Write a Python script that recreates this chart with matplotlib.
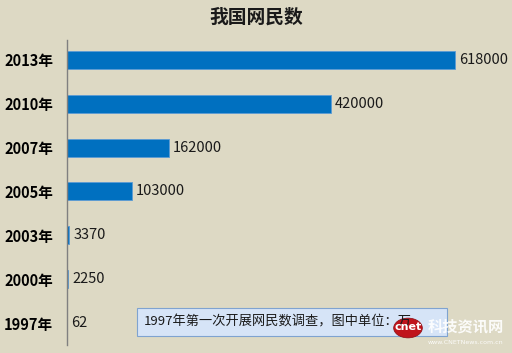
import matplotlib
matplotlib.use('Agg')
import matplotlib.pyplot as plt
from matplotlib.patches import FancyBboxPatch, Circle

plt.rcParams['font.family'] = ['Noto Sans CJK SC', 'DejaVu Sans']

# ── Data ────────────────────────────────────────────────────────────
years = ['1997年', '2000年', '2003年', '2005年', '2007年', '2010年', '2013年']
users = [62, 2250, 3370, 103000, 162000, 420000, 618000]
title = '我国网民数'
note = '1997年第一次开展网民数调查，图中单位：万'

BG = '#DDD9C4'
BAR = '#0070C0'

fig = plt.figure(figsize=(5.12, 3.53), dpi=100, facecolor=BG)
ax = fig.add_axes([67 / 512, 1 - 345 / 353, 408 / 512, 305 / 353])
ax.set_facecolor(BG)

pos = list(range(len(years)))
ax.barh(pos, users, height=0.41, color=BAR, edgecolor='#5B9BD5', linewidth=0.6)
ax.set_xlim(0, 650000)
ax.set_ylim(-0.5, 6.45)

for p, v in zip(pos, users):
    ax.text(v + 7000, p, str(v), va='center', ha='left', fontsize=10.5,
            color='#1a1a1a')

ax.set_yticks(pos)
ax.set_yticklabels(years, fontsize=10.5, fontweight='bold')
ax.tick_params(axis='y', length=0, pad=10)
ax.set_xticks([])
for s in ['top', 'right', 'bottom']:
    ax.spines[s].set_visible(False)
ax.spines['left'].set_color('#808080')
ax.spines['left'].set_linewidth(1.0)

fig.text(256 / 512, 1 - 17 / 353, title, ha='center', va='center',
         fontsize=13.5, fontweight='bold', color='#1a1a1a')

# note box
box = FancyBboxPatch((137 / 512, 1 - 336 / 353), 310 / 512, 28 / 353,
                     boxstyle='square,pad=0', transform=fig.transFigure,
                     facecolor='#D6E4F7', edgecolor='#7FA3D0', linewidth=0.8)
fig.patches.append(box)
fig.text(144 / 512, 1 - 322 / 353, note, ha='left', va='center',
         fontsize=9.5, color='#1a1a1a')

# watermark
logo = Circle((408 / 512, 1 - 328 / 353), 0.028, transform=fig.transFigure,
              facecolor='#C0141C', edgecolor='#8A0E14', linewidth=0.5)
fig.patches.append(logo)
fig.text(408 / 512, 1 - 327 / 353, 'cnet', ha='center', va='center',
         fontsize=8, fontweight='bold', color='white', family='DejaVu Sans')
fig.text(466 / 512, 1 - 326 / 353, '科技资讯网', ha='center', va='center',
         fontsize=11, fontweight='bold', color='white', alpha=0.9)
fig.text(466 / 512, 1 - 342 / 353, 'www.CNETNews.com.cn', ha='center',
         va='center', fontsize=4.5, color='white', alpha=0.9,
         family='DejaVu Sans')

fig.savefig('out.png', dpi=100, facecolor=BG)
